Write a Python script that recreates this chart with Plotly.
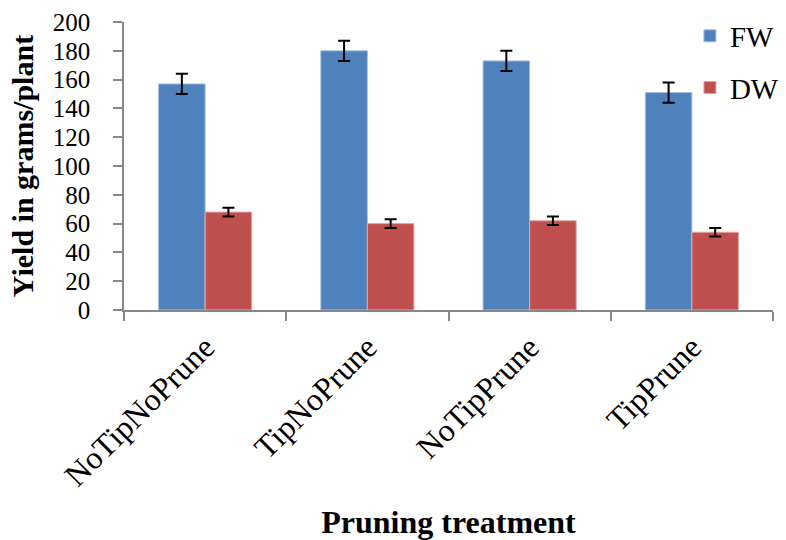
import plotly.graph_objects as go

categories = ["NoTipNoPrune", "TipNoPrune", "NoTipPrune", "TipPrune"]
fw_values = [157, 180, 173, 151]
fw_errors = [7, 7, 7, 7]
dw_values = [68, 60, 62, 54]
dw_errors = [3, 3, 3, 3]

FONT = "Liberation Serif, Times New Roman, serif"
AXIS_COLOR = "#888888"

fig = go.Figure()
fig.add_trace(go.Bar(
    name="FW", x=categories, y=fw_values,
    marker=dict(color="#4F81BD", line=dict(color="#A7C0DE", width=1)),
    error_y=dict(type="data", array=fw_errors, color="black", thickness=2, width=6),
    legendgroup="fw",
))
fig.add_trace(go.Bar(
    name="DW", x=categories, y=dw_values,
    marker=dict(color="#C0504D", line=dict(color="#DFA8A6", width=1)),
    error_y=dict(type="data", array=dw_errors, color="black", thickness=2, width=6),
    legendgroup="dw",
))

fig.update_layout(
    width=786, height=540,
    margin=dict(l=124, r=13, t=22, b=230, autoexpand=False),
    paper_bgcolor="white", plot_bgcolor="white",
    barmode="group", bargap=0.426, bargroupgap=0,
    font=dict(family=FONT, size=26, color="black"),
    legend=dict(x=0.872, y=1.04, xanchor="left", yanchor="top",
                font=dict(family=FONT, size=29), tracegroupgap=11,
                itemwidth=30, bgcolor="rgba(0,0,0,0)"),
    xaxis=dict(
        showline=True, linecolor=AXIS_COLOR, linewidth=1.5,
        ticks="outside", tickson="boundaries", ticklen=9, tickcolor=AXIS_COLOR, tickwidth=1.5,
        tickangle=-45, tickfont=dict(family=FONT, size=32), ticklabelstandoff=4,
        title=dict(text="<b>Pruning treatment</b>", font=dict(family=FONT, size=32), standoff=20),
        showgrid=False,
    ),
    yaxis=dict(
        range=[0, 200], dtick=20, showline=True, linecolor=AXIS_COLOR, linewidth=1.5,
        ticks="outside", ticklen=9, tickcolor=AXIS_COLOR, tickwidth=1.5,
        tickfont=dict(family=FONT, size=25), ticklabelstandoff=18,
        title=dict(text="<b>Yield in grams/plant</b>", font=dict(family=FONT, size=30), standoff=10),
        showgrid=False, zeroline=False,
    ),
)

fig.write_html("out.html")
